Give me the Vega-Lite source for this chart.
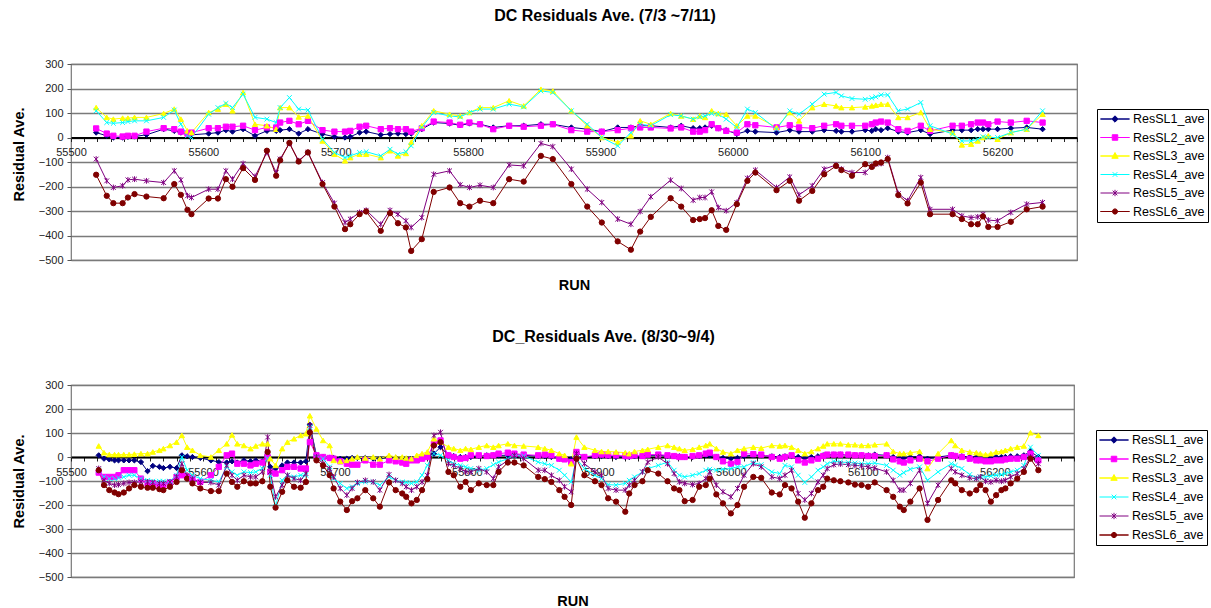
{
  "$schema": "https://vega.github.io/schema/vega-lite/v6.json",
  "background": "white",
  "padding": {"left": 10, "top": 7, "right": 0, "bottom": 0},
  "spacing": 35,
  "datasets": {
    "markers": [
      {"series": "ResSL1_ave", "sl": "SL1"},
      {"series": "ResSL2_ave", "sl": "SL2"},
      {"series": "ResSL3_ave", "sl": "SL3"},
      {"series": "ResSL4_ave", "sl": "SL4"},
      {"series": "ResSL5_ave", "sl": "SL5"},
      {"series": "ResSL6_ave", "sl": "SL6"}
    ],
    "jul": [
      {"run":55519,"ResSL1_ave":20,"ResSL2_ave":37,"ResSL3_ave":122,"ResSL4_ave":109,"ResSL5_ave":-88,"ResSL6_ave":-152},
      {"run":55527,"ResSL1_ave":7,"ResSL2_ave":16,"ResSL3_ave":82,"ResSL4_ave":61,"ResSL5_ave":-177,"ResSL6_ave":-238},
      {"run":55532,"ResSL1_ave":0,"ResSL2_ave":7,"ResSL3_ave":75,"ResSL4_ave":58,"ResSL5_ave":-204,"ResSL6_ave":-268},
      {"run":55539,"ResSL1_ave":0,"ResSL2_ave":4,"ResSL3_ave":79,"ResSL4_ave":61,"ResSL5_ave":-197,"ResSL6_ave":-268},
      {"run":55543,"ResSL1_ave":3,"ResSL2_ave":7,"ResSL3_ave":79,"ResSL4_ave":65,"ResSL5_ave":-173,"ResSL6_ave":-245},
      {"run":55548,"ResSL1_ave":4,"ResSL2_ave":7,"ResSL3_ave":82,"ResSL4_ave":68,"ResSL5_ave":-170,"ResSL6_ave":-231},
      {"run":55557,"ResSL1_ave":11,"ResSL2_ave":24,"ResSL3_ave":82,"ResSL4_ave":68,"ResSL5_ave":-177,"ResSL6_ave":-241},
      {"run":55570,"ResSL1_ave":34,"ResSL2_ave":38,"ResSL3_ave":98,"ResSL4_ave":82,"ResSL5_ave":-184,"ResSL6_ave":-248},
      {"run":55578,"ResSL1_ave":27,"ResSL2_ave":34,"ResSL3_ave":116,"ResSL4_ave":112,"ResSL5_ave":-136,"ResSL6_ave":-190},
      {"run":55583,"ResSL1_ave":20,"ResSL2_ave":24,"ResSL3_ave":75,"ResSL4_ave":54,"ResSL5_ave":-173,"ResSL6_ave":-234},
      {"run":55588,"ResSL1_ave":14,"ResSL2_ave":16,"ResSL3_ave":27,"ResSL4_ave":7,"ResSL5_ave":-238,"ResSL6_ave":-295},
      {"run":55591,"ResSL1_ave":11,"ResSL2_ave":20,"ResSL3_ave":20,"ResSL4_ave":0,"ResSL5_ave":-245,"ResSL6_ave":-313},
      {"run":55604,"ResSL1_ave":16,"ResSL2_ave":38,"ResSL3_ave":102,"ResSL4_ave":95,"ResSL5_ave":-211,"ResSL6_ave":-249},
      {"run":55611,"ResSL1_ave":20,"ResSL2_ave":38,"ResSL3_ave":116,"ResSL4_ave":122,"ResSL5_ave":-211,"ResSL6_ave":-249},
      {"run":55617,"ResSL1_ave":30,"ResSL2_ave":44,"ResSL3_ave":136,"ResSL4_ave":139,"ResSL5_ave":-136,"ResSL6_ave":-170},
      {"run":55622,"ResSL1_ave":24,"ResSL2_ave":44,"ResSL3_ave":109,"ResSL4_ave":122,"ResSL5_ave":-170,"ResSL6_ave":-201},
      {"run":55630,"ResSL1_ave":34,"ResSL2_ave":48,"ResSL3_ave":184,"ResSL4_ave":177,"ResSL5_ave":-106,"ResSL6_ave":-125},
      {"run":55639,"ResSL1_ave":7,"ResSL2_ave":30,"ResSL3_ave":54,"ResSL4_ave":82,"ResSL5_ave":-159,"ResSL6_ave":-173},
      {"run":55648,"ResSL1_ave":27,"ResSL2_ave":41,"ResSL3_ave":48,"ResSL4_ave":75,"ResSL5_ave":-61,"ResSL6_ave":-54},
      {"run":55655,"ResSL1_ave":27,"ResSL2_ave":41,"ResSL3_ave":34,"ResSL4_ave":61,"ResSL5_ave":-143,"ResSL6_ave":-156},
      {"run":55658,"ResSL1_ave":30,"ResSL2_ave":61,"ResSL3_ave":122,"ResSL4_ave":122,"ResSL5_ave":-88,"ResSL6_ave":-93},
      {"run":55665,"ResSL1_ave":34,"ResSL2_ave":68,"ResSL3_ave":122,"ResSL4_ave":163,"ResSL5_ave":-24,"ResSL6_ave":-22},
      {"run":55672,"ResSL1_ave":16,"ResSL2_ave":54,"ResSL3_ave":84,"ResSL4_ave":116,"ResSL5_ave":-95,"ResSL6_ave":-98},
      {"run":55679,"ResSL1_ave":34,"ResSL2_ave":68,"ResSL3_ave":88,"ResSL4_ave":112,"ResSL5_ave":-61,"ResSL6_ave":-61},
      {"run":55690,"ResSL1_ave":14,"ResSL2_ave":30,"ResSL3_ave":-14,"ResSL4_ave":-7,"ResSL5_ave":-184,"ResSL6_ave":-190},
      {"run":55699,"ResSL1_ave":3,"ResSL2_ave":24,"ResSL3_ave":-68,"ResSL4_ave":-61,"ResSL5_ave":-268,"ResSL6_ave":-282},
      {"run":55707,"ResSL1_ave":0,"ResSL2_ave":24,"ResSL3_ave":-95,"ResSL4_ave":-82,"ResSL5_ave":-347,"ResSL6_ave":-374},
      {"run":55711,"ResSL1_ave":3,"ResSL2_ave":27,"ResSL3_ave":-82,"ResSL4_ave":-75,"ResSL5_ave":-333,"ResSL6_ave":-354},
      {"run":55718,"ResSL1_ave":20,"ResSL2_ave":44,"ResSL3_ave":-68,"ResSL4_ave":-61,"ResSL5_ave":-306,"ResSL6_ave":-313},
      {"run":55723,"ResSL1_ave":24,"ResSL2_ave":48,"ResSL3_ave":-68,"ResSL4_ave":-58,"ResSL5_ave":-297,"ResSL6_ave":-302},
      {"run":55734,"ResSL1_ave":11,"ResSL2_ave":34,"ResSL3_ave":-82,"ResSL4_ave":-75,"ResSL5_ave":-354,"ResSL6_ave":-381},
      {"run":55741,"ResSL1_ave":14,"ResSL2_ave":38,"ResSL3_ave":-54,"ResSL4_ave":-48,"ResSL5_ave":-297,"ResSL6_ave":-309},
      {"run":55747,"ResSL1_ave":16,"ResSL2_ave":34,"ResSL3_ave":-75,"ResSL4_ave":-68,"ResSL5_ave":-313,"ResSL6_ave":-350},
      {"run":55753,"ResSL1_ave":14,"ResSL2_ave":34,"ResSL3_ave":-65,"ResSL4_ave":-58,"ResSL5_ave":-340,"ResSL6_ave":-367},
      {"run":55757,"ResSL1_ave":16,"ResSL2_ave":24,"ResSL3_ave":-20,"ResSL4_ave":-34,"ResSL5_ave":-367,"ResSL6_ave":-463},
      {"run":55765,"ResSL1_ave":34,"ResSL2_ave":38,"ResSL3_ave":48,"ResSL4_ave":41,"ResSL5_ave":-327,"ResSL6_ave":-415},
      {"run":55774,"ResSL1_ave":61,"ResSL2_ave":65,"ResSL3_ave":109,"ResSL4_ave":102,"ResSL5_ave":-150,"ResSL6_ave":-222},
      {"run":55786,"ResSL1_ave":57,"ResSL2_ave":61,"ResSL3_ave":95,"ResSL4_ave":88,"ResSL5_ave":-136,"ResSL6_ave":-204},
      {"run":55794,"ResSL1_ave":50,"ResSL2_ave":52,"ResSL3_ave":88,"ResSL4_ave":84,"ResSL5_ave":-193,"ResSL6_ave":-268},
      {"run":55801,"ResSL1_ave":57,"ResSL2_ave":61,"ResSL3_ave":102,"ResSL4_ave":102,"ResSL5_ave":-204,"ResSL6_ave":-282},
      {"run":55809,"ResSL1_ave":54,"ResSL2_ave":54,"ResSL3_ave":122,"ResSL4_ave":116,"ResSL5_ave":-195,"ResSL6_ave":-258},
      {"run":55819,"ResSL1_ave":41,"ResSL2_ave":34,"ResSL3_ave":122,"ResSL4_ave":116,"ResSL5_ave":-204,"ResSL6_ave":-268},
      {"run":55831,"ResSL1_ave":48,"ResSL2_ave":48,"ResSL3_ave":150,"ResSL4_ave":136,"ResSL5_ave":-112,"ResSL6_ave":-170},
      {"run":55842,"ResSL1_ave":48,"ResSL2_ave":44,"ResSL3_ave":129,"ResSL4_ave":125,"ResSL5_ave":-116,"ResSL6_ave":-180},
      {"run":55855,"ResSL1_ave":54,"ResSL2_ave":48,"ResSL3_ave":197,"ResSL4_ave":190,"ResSL5_ave":-24,"ResSL6_ave":-75},
      {"run":55864,"ResSL1_ave":54,"ResSL2_ave":54,"ResSL3_ave":190,"ResSL4_ave":184,"ResSL5_ave":-37,"ResSL6_ave":-88},
      {"run":55878,"ResSL1_ave":41,"ResSL2_ave":30,"ResSL3_ave":109,"ResSL4_ave":109,"ResSL5_ave":-129,"ResSL6_ave":-190},
      {"run":55890,"ResSL1_ave":34,"ResSL2_ave":24,"ResSL3_ave":48,"ResSL4_ave":54,"ResSL5_ave":-211,"ResSL6_ave":-282},
      {"run":55901,"ResSL1_ave":24,"ResSL2_ave":24,"ResSL3_ave":0,"ResSL4_ave":0,"ResSL5_ave":-265,"ResSL6_ave":-347},
      {"run":55913,"ResSL1_ave":41,"ResSL2_ave":30,"ResSL3_ave":-20,"ResSL4_ave":-34,"ResSL5_ave":-333,"ResSL6_ave":-424},
      {"run":55923,"ResSL1_ave":41,"ResSL2_ave":38,"ResSL3_ave":7,"ResSL4_ave":20,"ResSL5_ave":-354,"ResSL6_ave":-458},
      {"run":55930,"ResSL1_ave":48,"ResSL2_ave":41,"ResSL3_ave":68,"ResSL4_ave":54,"ResSL5_ave":-302,"ResSL6_ave":-384},
      {"run":55938,"ResSL1_ave":48,"ResSL2_ave":41,"ResSL3_ave":54,"ResSL4_ave":48,"ResSL5_ave":-242,"ResSL6_ave":-324},
      {"run":55953,"ResSL1_ave":41,"ResSL2_ave":37,"ResSL3_ave":98,"ResSL4_ave":93,"ResSL5_ave":-174,"ResSL6_ave":-248},
      {"run":55961,"ResSL1_ave":48,"ResSL2_ave":41,"ResSL3_ave":88,"ResSL4_ave":88,"ResSL5_ave":-208,"ResSL6_ave":-282},
      {"run":55970,"ResSL1_ave":38,"ResSL2_ave":24,"ResSL3_ave":75,"ResSL4_ave":75,"ResSL5_ave":-256,"ResSL6_ave":-337},
      {"run":55975,"ResSL1_ave":38,"ResSL2_ave":24,"ResSL3_ave":88,"ResSL4_ave":84,"ResSL5_ave":-245,"ResSL6_ave":-333},
      {"run":55979,"ResSL1_ave":41,"ResSL2_ave":30,"ResSL3_ave":82,"ResSL4_ave":88,"ResSL5_ave":-245,"ResSL6_ave":-329},
      {"run":55984,"ResSL1_ave":48,"ResSL2_ave":54,"ResSL3_ave":109,"ResSL4_ave":98,"ResSL5_ave":-222,"ResSL6_ave":-297},
      {"run":55989,"ResSL1_ave":38,"ResSL2_ave":38,"ResSL3_ave":98,"ResSL4_ave":95,"ResSL5_ave":-286,"ResSL6_ave":-361},
      {"run":55995,"ResSL1_ave":30,"ResSL2_ave":27,"ResSL3_ave":95,"ResSL4_ave":75,"ResSL5_ave":-299,"ResSL6_ave":-377},
      {"run":56003,"ResSL1_ave":14,"ResSL2_ave":20,"ResSL3_ave":48,"ResSL4_ave":41,"ResSL5_ave":-265,"ResSL6_ave":-272},
      {"run":56011,"ResSL1_ave":27,"ResSL2_ave":54,"ResSL3_ave":88,"ResSL4_ave":116,"ResSL5_ave":-166,"ResSL6_ave":-177},
      {"run":56017,"ResSL1_ave":24,"ResSL2_ave":50,"ResSL3_ave":88,"ResSL4_ave":102,"ResSL5_ave":-133,"ResSL6_ave":-143},
      {"run":56033,"ResSL1_ave":20,"ResSL2_ave":41,"ResSL3_ave":41,"ResSL4_ave":34,"ResSL5_ave":-204,"ResSL6_ave":-215},
      {"run":56043,"ResSL1_ave":30,"ResSL2_ave":50,"ResSL3_ave":102,"ResSL4_ave":109,"ResSL5_ave":-161,"ResSL6_ave":-177},
      {"run":56050,"ResSL1_ave":24,"ResSL2_ave":41,"ResSL3_ave":68,"ResSL4_ave":95,"ResSL5_ave":-234,"ResSL6_ave":-258},
      {"run":56060,"ResSL1_ave":24,"ResSL2_ave":38,"ResSL3_ave":122,"ResSL4_ave":136,"ResSL5_ave":-197,"ResSL6_ave":-218},
      {"run":56069,"ResSL1_ave":30,"ResSL2_ave":48,"ResSL3_ave":136,"ResSL4_ave":177,"ResSL5_ave":-129,"ResSL6_ave":-150},
      {"run":56078,"ResSL1_ave":27,"ResSL2_ave":54,"ResSL3_ave":129,"ResSL4_ave":184,"ResSL5_ave":-112,"ResSL6_ave":-116},
      {"run":56082,"ResSL1_ave":24,"ResSL2_ave":48,"ResSL3_ave":122,"ResSL4_ave":170,"ResSL5_ave":-129,"ResSL6_ave":-133},
      {"run":56090,"ResSL1_ave":24,"ResSL2_ave":48,"ResSL3_ave":122,"ResSL4_ave":159,"ResSL5_ave":-143,"ResSL6_ave":-156},
      {"run":56100,"ResSL1_ave":30,"ResSL2_ave":48,"ResSL3_ave":125,"ResSL4_ave":156,"ResSL5_ave":-143,"ResSL6_ave":-109},
      {"run":56105,"ResSL1_ave":27,"ResSL2_ave":54,"ResSL3_ave":129,"ResSL4_ave":161,"ResSL5_ave":-116,"ResSL6_ave":-120},
      {"run":56108,"ResSL1_ave":34,"ResSL2_ave":61,"ResSL3_ave":132,"ResSL4_ave":166,"ResSL5_ave":-109,"ResSL6_ave":-106},
      {"run":56112,"ResSL1_ave":30,"ResSL2_ave":65,"ResSL3_ave":136,"ResSL4_ave":174,"ResSL5_ave":-106,"ResSL6_ave":-102},
      {"run":56117,"ResSL1_ave":38,"ResSL2_ave":61,"ResSL3_ave":136,"ResSL4_ave":174,"ResSL5_ave":-82,"ResSL6_ave":-88},
      {"run":56125,"ResSL1_ave":24,"ResSL2_ave":34,"ResSL3_ave":82,"ResSL4_ave":109,"ResSL5_ave":-229,"ResSL6_ave":-235},
      {"run":56132,"ResSL1_ave":20,"ResSL2_ave":27,"ResSL3_ave":82,"ResSL4_ave":116,"ResSL5_ave":-258,"ResSL6_ave":-269},
      {"run":56142,"ResSL1_ave":30,"ResSL2_ave":48,"ResSL3_ave":102,"ResSL4_ave":143,"ResSL5_ave":-163,"ResSL6_ave":-184},
      {"run":56149,"ResSL1_ave":14,"ResSL2_ave":27,"ResSL3_ave":34,"ResSL4_ave":48,"ResSL5_ave":-293,"ResSL6_ave":-313},
      {"run":56166,"ResSL1_ave":30,"ResSL2_ave":48,"ResSL3_ave":20,"ResSL4_ave":14,"ResSL5_ave":-293,"ResSL6_ave":-313},
      {"run":56173,"ResSL1_ave":30,"ResSL2_ave":48,"ResSL3_ave":-30,"ResSL4_ave":-14,"ResSL5_ave":-320,"ResSL6_ave":-333},
      {"run":56180,"ResSL1_ave":30,"ResSL2_ave":54,"ResSL3_ave":-27,"ResSL4_ave":-14,"ResSL5_ave":-327,"ResSL6_ave":-354},
      {"run":56185,"ResSL1_ave":34,"ResSL2_ave":61,"ResSL3_ave":-14,"ResSL4_ave":-7,"ResSL5_ave":-324,"ResSL6_ave":-354},
      {"run":56189,"ResSL1_ave":34,"ResSL2_ave":61,"ResSL3_ave":0,"ResSL4_ave":3,"ResSL5_ave":-313,"ResSL6_ave":-322},
      {"run":56193,"ResSL1_ave":34,"ResSL2_ave":54,"ResSL3_ave":7,"ResSL4_ave":0,"ResSL5_ave":-337,"ResSL6_ave":-365},
      {"run":56200,"ResSL1_ave":34,"ResSL2_ave":65,"ResSL3_ave":-7,"ResSL4_ave":0,"ResSL5_ave":-340,"ResSL6_ave":-365},
      {"run":56210,"ResSL1_ave":38,"ResSL2_ave":61,"ResSL3_ave":20,"ResSL4_ave":20,"ResSL5_ave":-306,"ResSL6_ave":-344},
      {"run":56222,"ResSL1_ave":41,"ResSL2_ave":68,"ResSL3_ave":34,"ResSL4_ave":34,"ResSL5_ave":-272,"ResSL6_ave":-293},
      {"run":56234,"ResSL1_ave":34,"ResSL2_ave":61,"ResSL3_ave":95,"ResSL4_ave":109,"ResSL5_ave":-265,"ResSL6_ave":-282}
    ],
    "sep": [
      {"run":55521,"ResSL1_ave":7,"ResSL2_ave":-65,"ResSL3_ave":46,"ResSL4_ave":-55,"ResSL5_ave":-48,"ResSL6_ave":-55},
      {"run":55525,"ResSL1_ave":-7,"ResSL2_ave":-83,"ResSL3_ave":18,"ResSL4_ave":-83,"ResSL5_ave":-97,"ResSL6_ave":-117},
      {"run":55529,"ResSL1_ave":-10,"ResSL2_ave":-83,"ResSL3_ave":10,"ResSL4_ave":-90,"ResSL5_ave":-110,"ResSL6_ave":-138},
      {"run":55533,"ResSL1_ave":-14,"ResSL2_ave":-83,"ResSL3_ave":10,"ResSL4_ave":-90,"ResSL5_ave":-117,"ResSL6_ave":-148},
      {"run":55536,"ResSL1_ave":-14,"ResSL2_ave":-76,"ResSL3_ave":10,"ResSL4_ave":-87,"ResSL5_ave":-115,"ResSL6_ave":-155},
      {"run":55540,"ResSL1_ave":-14,"ResSL2_ave":-55,"ResSL3_ave":10,"ResSL4_ave":-83,"ResSL5_ave":-110,"ResSL6_ave":-148},
      {"run":55544,"ResSL1_ave":-14,"ResSL2_ave":-55,"ResSL3_ave":10,"ResSL4_ave":-76,"ResSL5_ave":-106,"ResSL6_ave":-131},
      {"run":55548,"ResSL1_ave":-14,"ResSL2_ave":-55,"ResSL3_ave":12,"ResSL4_ave":-76,"ResSL5_ave":-106,"ResSL6_ave":-117},
      {"run":55553,"ResSL1_ave":-21,"ResSL2_ave":-90,"ResSL3_ave":14,"ResSL4_ave":-90,"ResSL5_ave":-104,"ResSL6_ave":-124},
      {"run":55558,"ResSL1_ave":-59,"ResSL2_ave":-110,"ResSL3_ave":14,"ResSL4_ave":-97,"ResSL5_ave":-104,"ResSL6_ave":-128},
      {"run":55562,"ResSL1_ave":-37,"ResSL2_ave":-110,"ResSL3_ave":21,"ResSL4_ave":-101,"ResSL5_ave":-106,"ResSL6_ave":-128},
      {"run":55567,"ResSL1_ave":-41,"ResSL2_ave":-117,"ResSL3_ave":28,"ResSL4_ave":-101,"ResSL5_ave":-110,"ResSL6_ave":-134},
      {"run":55570,"ResSL1_ave":-46,"ResSL2_ave":-117,"ResSL3_ave":35,"ResSL4_ave":-101,"ResSL5_ave":-110,"ResSL6_ave":-138},
      {"run":55575,"ResSL1_ave":-41,"ResSL2_ave":-106,"ResSL3_ave":48,"ResSL4_ave":-101,"ResSL5_ave":-104,"ResSL6_ave":-124},
      {"run":55580,"ResSL1_ave":-46,"ResSL2_ave":-83,"ResSL3_ave":62,"ResSL4_ave":-76,"ResSL5_ave":-83,"ResSL6_ave":-104},
      {"run":55584,"ResSL1_ave":7,"ResSL2_ave":-76,"ResSL3_ave":90,"ResSL4_ave":0,"ResSL5_ave":-28,"ResSL6_ave":-55},
      {"run":55588,"ResSL1_ave":3,"ResSL2_ave":-83,"ResSL3_ave":41,"ResSL4_ave":-55,"ResSL5_ave":-76,"ResSL6_ave":-90},
      {"run":55592,"ResSL1_ave":0,"ResSL2_ave":-90,"ResSL3_ave":28,"ResSL4_ave":-76,"ResSL5_ave":-92,"ResSL6_ave":-110},
      {"run":55598,"ResSL1_ave":-4,"ResSL2_ave":-104,"ResSL3_ave":7,"ResSL4_ave":-90,"ResSL5_ave":-106,"ResSL6_ave":-131},
      {"run":55606,"ResSL1_ave":-14,"ResSL2_ave":-76,"ResSL3_ave":0,"ResSL4_ave":-97,"ResSL5_ave":-106,"ResSL6_ave":-142},
      {"run":55612,"ResSL1_ave":-21,"ResSL2_ave":-41,"ResSL3_ave":28,"ResSL4_ave":-104,"ResSL5_ave":-117,"ResSL6_ave":-142},
      {"run":55618,"ResSL1_ave":-23,"ResSL2_ave":7,"ResSL3_ave":55,"ResSL4_ave":-41,"ResSL5_ave":-35,"ResSL6_ave":-69},
      {"run":55622,"ResSL1_ave":-18,"ResSL2_ave":14,"ResSL3_ave":92,"ResSL4_ave":-62,"ResSL5_ave":-76,"ResSL6_ave":-104},
      {"run":55626,"ResSL1_ave":-23,"ResSL2_ave":-28,"ResSL3_ave":55,"ResSL4_ave":-76,"ResSL5_ave":-97,"ResSL6_ave":-124},
      {"run":55631,"ResSL1_ave":-14,"ResSL2_ave":-28,"ResSL3_ave":48,"ResSL4_ave":-62,"ResSL5_ave":-76,"ResSL6_ave":-101},
      {"run":55636,"ResSL1_ave":-18,"ResSL2_ave":-35,"ResSL3_ave":35,"ResSL4_ave":-65,"ResSL5_ave":-83,"ResSL6_ave":-110},
      {"run":55640,"ResSL1_ave":-14,"ResSL2_ave":-28,"ResSL3_ave":46,"ResSL4_ave":-62,"ResSL5_ave":-83,"ResSL6_ave":-110},
      {"run":55645,"ResSL1_ave":-18,"ResSL2_ave":-23,"ResSL3_ave":55,"ResSL4_ave":-48,"ResSL5_ave":-62,"ResSL6_ave":-101},
      {"run":55649,"ResSL1_ave":7,"ResSL2_ave":0,"ResSL3_ave":55,"ResSL4_ave":-7,"ResSL5_ave":83,"ResSL6_ave":21},
      {"run":55651,"ResSL1_ave":-41,"ResSL2_ave":-62,"ResSL3_ave":-7,"ResSL4_ave":-76,"ResSL5_ave":-62,"ResSL6_ave":-124},
      {"run":55655,"ResSL1_ave":-48,"ResSL2_ave":-69,"ResSL3_ave":-35,"ResSL4_ave":-207,"ResSL5_ave":-166,"ResSL6_ave":-211},
      {"run":55660,"ResSL1_ave":-35,"ResSL2_ave":-55,"ResSL3_ave":35,"ResSL4_ave":-97,"ResSL5_ave":-117,"ResSL6_ave":-145},
      {"run":55664,"ResSL1_ave":-23,"ResSL2_ave":-41,"ResSL3_ave":62,"ResSL4_ave":-76,"ResSL5_ave":-76,"ResSL6_ave":-97},
      {"run":55669,"ResSL1_ave":-23,"ResSL2_ave":-41,"ResSL3_ave":76,"ResSL4_ave":-83,"ResSL5_ave":-90,"ResSL6_ave":-124},
      {"run":55674,"ResSL1_ave":-23,"ResSL2_ave":-48,"ResSL3_ave":90,"ResSL4_ave":-76,"ResSL5_ave":-97,"ResSL6_ave":-128},
      {"run":55678,"ResSL1_ave":-18,"ResSL2_ave":-48,"ResSL3_ave":97,"ResSL4_ave":-76,"ResSL5_ave":-69,"ResSL6_ave":-104},
      {"run":55681,"ResSL1_ave":134,"ResSL2_ave":62,"ResSL3_ave":172,"ResSL4_ave":124,"ResSL5_ave":131,"ResSL6_ave":103},
      {"run":55686,"ResSL1_ave":7,"ResSL2_ave":7,"ResSL3_ave":117,"ResSL4_ave":0,"ResSL5_ave":0,"ResSL6_ave":-14},
      {"run":55691,"ResSL1_ave":0,"ResSL2_ave":0,"ResSL3_ave":69,"ResSL4_ave":-7,"ResSL5_ave":-28,"ResSL6_ave":-35},
      {"run":55696,"ResSL1_ave":-4,"ResSL2_ave":-4,"ResSL3_ave":48,"ResSL4_ave":-41,"ResSL5_ave":-48,"ResSL6_ave":-76},
      {"run":55699,"ResSL1_ave":-4,"ResSL2_ave":-7,"ResSL3_ave":-14,"ResSL4_ave":-90,"ResSL5_ave":-83,"ResSL6_ave":-131},
      {"run":55704,"ResSL1_ave":-7,"ResSL2_ave":-18,"ResSL3_ave":-18,"ResSL4_ave":-110,"ResSL5_ave":-131,"ResSL6_ave":-186},
      {"run":55709,"ResSL1_ave":-7,"ResSL2_ave":-28,"ResSL3_ave":-14,"ResSL4_ave":-131,"ResSL5_ave":-159,"ResSL6_ave":-221},
      {"run":55713,"ResSL1_ave":-4,"ResSL2_ave":-32,"ResSL3_ave":-7,"ResSL4_ave":-124,"ResSL5_ave":-131,"ResSL6_ave":-184},
      {"run":55717,"ResSL1_ave":-4,"ResSL2_ave":-32,"ResSL3_ave":0,"ResSL4_ave":-110,"ResSL5_ave":-106,"ResSL6_ave":-172},
      {"run":55723,"ResSL1_ave":-4,"ResSL2_ave":-14,"ResSL3_ave":-4,"ResSL4_ave":-104,"ResSL5_ave":-97,"ResSL6_ave":-138},
      {"run":55729,"ResSL1_ave":-7,"ResSL2_ave":-32,"ResSL3_ave":0,"ResSL4_ave":-104,"ResSL5_ave":-104,"ResSL6_ave":-172},
      {"run":55734,"ResSL1_ave":-7,"ResSL2_ave":-32,"ResSL3_ave":-7,"ResSL4_ave":-117,"ResSL5_ave":-138,"ResSL6_ave":-207},
      {"run":55741,"ResSL1_ave":0,"ResSL2_ave":-14,"ResSL3_ave":7,"ResSL4_ave":-83,"ResSL5_ave":-73,"ResSL6_ave":-106},
      {"run":55746,"ResSL1_ave":-4,"ResSL2_ave":-18,"ResSL3_ave":0,"ResSL4_ave":-97,"ResSL5_ave":-97,"ResSL6_ave":-138},
      {"run":55751,"ResSL1_ave":-7,"ResSL2_ave":-23,"ResSL3_ave":0,"ResSL4_ave":-104,"ResSL5_ave":-110,"ResSL6_ave":-152},
      {"run":55754,"ResSL1_ave":-7,"ResSL2_ave":-28,"ResSL3_ave":-4,"ResSL4_ave":-106,"ResSL5_ave":-124,"ResSL6_ave":-166},
      {"run":55758,"ResSL1_ave":-7,"ResSL2_ave":-14,"ResSL3_ave":-7,"ResSL4_ave":-110,"ResSL5_ave":-138,"ResSL6_ave":-193},
      {"run":55762,"ResSL1_ave":-4,"ResSL2_ave":-14,"ResSL3_ave":7,"ResSL4_ave":-104,"ResSL5_ave":-124,"ResSL6_ave":-179},
      {"run":55766,"ResSL1_ave":0,"ResSL2_ave":-7,"ResSL3_ave":14,"ResSL4_ave":-76,"ResSL5_ave":-104,"ResSL6_ave":-138},
      {"run":55770,"ResSL1_ave":7,"ResSL2_ave":0,"ResSL3_ave":21,"ResSL4_ave":-35,"ResSL5_ave":-76,"ResSL6_ave":-92},
      {"run":55775,"ResSL1_ave":14,"ResSL2_ave":55,"ResSL3_ave":76,"ResSL4_ave":14,"ResSL5_ave":90,"ResSL6_ave":48},
      {"run":55780,"ResSL1_ave":41,"ResSL2_ave":69,"ResSL3_ave":62,"ResSL4_ave":7,"ResSL5_ave":103,"ResSL6_ave":62},
      {"run":55786,"ResSL1_ave":7,"ResSL2_ave":7,"ResSL3_ave":41,"ResSL4_ave":-14,"ResSL5_ave":-28,"ResSL6_ave":-62},
      {"run":55790,"ResSL1_ave":4,"ResSL2_ave":0,"ResSL3_ave":35,"ResSL4_ave":-28,"ResSL5_ave":-35,"ResSL6_ave":-76},
      {"run":55795,"ResSL1_ave":0,"ResSL2_ave":-7,"ResSL3_ave":28,"ResSL4_ave":-35,"ResSL5_ave":-48,"ResSL6_ave":-124},
      {"run":55799,"ResSL1_ave":0,"ResSL2_ave":-4,"ResSL3_ave":35,"ResSL4_ave":-41,"ResSL5_ave":-62,"ResSL6_ave":-104},
      {"run":55803,"ResSL1_ave":0,"ResSL2_ave":7,"ResSL3_ave":32,"ResSL4_ave":-48,"ResSL5_ave":-62,"ResSL6_ave":-138},
      {"run":55809,"ResSL1_ave":4,"ResSL2_ave":7,"ResSL3_ave":41,"ResSL4_ave":-55,"ResSL5_ave":-48,"ResSL6_ave":-110},
      {"run":55815,"ResSL1_ave":7,"ResSL2_ave":4,"ResSL3_ave":48,"ResSL4_ave":-48,"ResSL5_ave":-62,"ResSL6_ave":-117},
      {"run":55820,"ResSL1_ave":7,"ResSL2_ave":7,"ResSL3_ave":41,"ResSL4_ave":-32,"ResSL5_ave":-90,"ResSL6_ave":-117},
      {"run":55824,"ResSL1_ave":7,"ResSL2_ave":14,"ResSL3_ave":48,"ResSL4_ave":-21,"ResSL5_ave":-41,"ResSL6_ave":-62},
      {"run":55831,"ResSL1_ave":7,"ResSL2_ave":18,"ResSL3_ave":55,"ResSL4_ave":-7,"ResSL5_ave":-14,"ResSL6_ave":-23},
      {"run":55836,"ResSL1_ave":10,"ResSL2_ave":14,"ResSL3_ave":48,"ResSL4_ave":4,"ResSL5_ave":7,"ResSL6_ave":-23},
      {"run":55843,"ResSL1_ave":7,"ResSL2_ave":10,"ResSL3_ave":46,"ResSL4_ave":4,"ResSL5_ave":-7,"ResSL6_ave":-35},
      {"run":55854,"ResSL1_ave":4,"ResSL2_ave":7,"ResSL3_ave":41,"ResSL4_ave":-21,"ResSL5_ave":-55,"ResSL6_ave":-83},
      {"run":55859,"ResSL1_ave":3,"ResSL2_ave":10,"ResSL3_ave":35,"ResSL4_ave":-28,"ResSL5_ave":-55,"ResSL6_ave":-92},
      {"run":55864,"ResSL1_ave":0,"ResSL2_ave":7,"ResSL3_ave":28,"ResSL4_ave":-35,"ResSL5_ave":-76,"ResSL6_ave":-104},
      {"run":55870,"ResSL1_ave":-4,"ResSL2_ave":-7,"ResSL3_ave":14,"ResSL4_ave":-55,"ResSL5_ave":-97,"ResSL6_ave":-138},
      {"run":55874,"ResSL1_ave":-7,"ResSL2_ave":-10,"ResSL3_ave":7,"ResSL4_ave":-76,"ResSL5_ave":-124,"ResSL6_ave":-166},
      {"run":55879,"ResSL1_ave":-10,"ResSL2_ave":-21,"ResSL3_ave":-28,"ResSL4_ave":-104,"ResSL5_ave":-145,"ResSL6_ave":-200},
      {"run":55883,"ResSL1_ave":18,"ResSL2_ave":21,"ResSL3_ave":83,"ResSL4_ave":-7,"ResSL5_ave":14,"ResSL6_ave":-7},
      {"run":55889,"ResSL1_ave":0,"ResSL2_ave":0,"ResSL3_ave":41,"ResSL4_ave":-48,"ResSL5_ave":-28,"ResSL6_ave":-76},
      {"run":55897,"ResSL1_ave":3,"ResSL2_ave":7,"ResSL3_ave":28,"ResSL4_ave":-76,"ResSL5_ave":-62,"ResSL6_ave":-101},
      {"run":55902,"ResSL1_ave":4,"ResSL2_ave":10,"ResSL3_ave":23,"ResSL4_ave":-90,"ResSL5_ave":-76,"ResSL6_ave":-117},
      {"run":55907,"ResSL1_ave":3,"ResSL2_ave":7,"ResSL3_ave":23,"ResSL4_ave":-115,"ResSL5_ave":-131,"ResSL6_ave":-172},
      {"run":55913,"ResSL1_ave":0,"ResSL2_ave":7,"ResSL3_ave":21,"ResSL4_ave":-117,"ResSL5_ave":-138,"ResSL6_ave":-186},
      {"run":55920,"ResSL1_ave":0,"ResSL2_ave":4,"ResSL3_ave":18,"ResSL4_ave":-110,"ResSL5_ave":-138,"ResSL6_ave":-228},
      {"run":55923,"ResSL1_ave":0,"ResSL2_ave":4,"ResSL3_ave":14,"ResSL4_ave":-97,"ResSL5_ave":-117,"ResSL6_ave":-152},
      {"run":55927,"ResSL1_ave":3,"ResSL2_ave":7,"ResSL3_ave":23,"ResSL4_ave":-83,"ResSL5_ave":-97,"ResSL6_ave":-117},
      {"run":55933,"ResSL1_ave":3,"ResSL2_ave":4,"ResSL3_ave":28,"ResSL4_ave":-62,"ResSL5_ave":-62,"ResSL6_ave":-101},
      {"run":55937,"ResSL1_ave":7,"ResSL2_ave":10,"ResSL3_ave":32,"ResSL4_ave":-48,"ResSL5_ave":-21,"ResSL6_ave":-55},
      {"run":55945,"ResSL1_ave":7,"ResSL2_ave":10,"ResSL3_ave":41,"ResSL4_ave":-35,"ResSL5_ave":0,"ResSL6_ave":-69},
      {"run":55952,"ResSL1_ave":4,"ResSL2_ave":7,"ResSL3_ave":48,"ResSL4_ave":-21,"ResSL5_ave":-28,"ResSL6_ave":-101},
      {"run":55957,"ResSL1_ave":3,"ResSL2_ave":4,"ResSL3_ave":41,"ResSL4_ave":-55,"ResSL5_ave":-69,"ResSL6_ave":-131},
      {"run":55961,"ResSL1_ave":3,"ResSL2_ave":0,"ResSL3_ave":35,"ResSL4_ave":-76,"ResSL5_ave":-104,"ResSL6_ave":-138},
      {"run":55965,"ResSL1_ave":0,"ResSL2_ave":0,"ResSL3_ave":28,"ResSL4_ave":-83,"ResSL5_ave":-110,"ResSL6_ave":-184},
      {"run":55971,"ResSL1_ave":0,"ResSL2_ave":4,"ResSL3_ave":32,"ResSL4_ave":-76,"ResSL5_ave":-115,"ResSL6_ave":-179},
      {"run":55976,"ResSL1_ave":4,"ResSL2_ave":7,"ResSL3_ave":41,"ResSL4_ave":-69,"ResSL5_ave":-110,"ResSL6_ave":-124},
      {"run":55981,"ResSL1_ave":7,"ResSL2_ave":14,"ResSL3_ave":48,"ResSL4_ave":-55,"ResSL5_ave":-90,"ResSL6_ave":-117},
      {"run":55984,"ResSL1_ave":7,"ResSL2_ave":18,"ResSL3_ave":55,"ResSL4_ave":-51,"ResSL5_ave":-62,"ResSL6_ave":-90},
      {"run":55989,"ResSL1_ave":0,"ResSL2_ave":0,"ResSL3_ave":35,"ResSL4_ave":-55,"ResSL5_ave":-117,"ResSL6_ave":-156},
      {"run":55994,"ResSL1_ave":-4,"ResSL2_ave":-18,"ResSL3_ave":21,"ResSL4_ave":-51,"ResSL5_ave":-145,"ResSL6_ave":-193},
      {"run":56000,"ResSL1_ave":-7,"ResSL2_ave":-28,"ResSL3_ave":14,"ResSL4_ave":-48,"ResSL5_ave":-166,"ResSL6_ave":-235},
      {"run":56005,"ResSL1_ave":-4,"ResSL2_ave":-21,"ResSL3_ave":28,"ResSL4_ave":-41,"ResSL5_ave":-131,"ResSL6_ave":-200},
      {"run":56010,"ResSL1_ave":4,"ResSL2_ave":14,"ResSL3_ave":35,"ResSL4_ave":-41,"ResSL5_ave":-76,"ResSL6_ave":-124},
      {"run":56017,"ResSL1_ave":7,"ResSL2_ave":12,"ResSL3_ave":41,"ResSL4_ave":-23,"ResSL5_ave":-28,"ResSL6_ave":-83},
      {"run":56023,"ResSL1_ave":7,"ResSL2_ave":10,"ResSL3_ave":37,"ResSL4_ave":-32,"ResSL5_ave":-41,"ResSL6_ave":-87},
      {"run":56031,"ResSL1_ave":3,"ResSL2_ave":0,"ResSL3_ave":48,"ResSL4_ave":-62,"ResSL5_ave":-83,"ResSL6_ave":-148},
      {"run":56037,"ResSL1_ave":0,"ResSL2_ave":-7,"ResSL3_ave":46,"ResSL4_ave":-69,"ResSL5_ave":-90,"ResSL6_ave":-156},
      {"run":56041,"ResSL1_ave":3,"ResSL2_ave":0,"ResSL3_ave":48,"ResSL4_ave":-35,"ResSL5_ave":-76,"ResSL6_ave":-117},
      {"run":56046,"ResSL1_ave":4,"ResSL2_ave":7,"ResSL3_ave":41,"ResSL4_ave":-41,"ResSL5_ave":-55,"ResSL6_ave":-131},
      {"run":56051,"ResSL1_ave":0,"ResSL2_ave":-14,"ResSL3_ave":28,"ResSL4_ave":-76,"ResSL5_ave":-152,"ResSL6_ave":-186},
      {"run":56056,"ResSL1_ave":-4,"ResSL2_ave":-23,"ResSL3_ave":14,"ResSL4_ave":-106,"ResSL5_ave":-179,"ResSL6_ave":-253},
      {"run":56061,"ResSL1_ave":0,"ResSL2_ave":-14,"ResSL3_ave":23,"ResSL4_ave":-83,"ResSL5_ave":-152,"ResSL6_ave":-193},
      {"run":56066,"ResSL1_ave":3,"ResSL2_ave":-7,"ResSL3_ave":35,"ResSL4_ave":-55,"ResSL5_ave":-104,"ResSL6_ave":-138},
      {"run":56070,"ResSL1_ave":7,"ResSL2_ave":4,"ResSL3_ave":46,"ResSL4_ave":-41,"ResSL5_ave":-76,"ResSL6_ave":-124},
      {"run":56073,"ResSL1_ave":7,"ResSL2_ave":10,"ResSL3_ave":55,"ResSL4_ave":-28,"ResSL5_ave":-48,"ResSL6_ave":-90},
      {"run":56078,"ResSL1_ave":10,"ResSL2_ave":10,"ResSL3_ave":55,"ResSL4_ave":-18,"ResSL5_ave":-32,"ResSL6_ave":-97},
      {"run":56083,"ResSL1_ave":10,"ResSL2_ave":10,"ResSL3_ave":55,"ResSL4_ave":-21,"ResSL5_ave":-29,"ResSL6_ave":-101},
      {"run":56089,"ResSL1_ave":7,"ResSL2_ave":10,"ResSL3_ave":51,"ResSL4_ave":-23,"ResSL5_ave":-32,"ResSL6_ave":-106},
      {"run":56094,"ResSL1_ave":7,"ResSL2_ave":7,"ResSL3_ave":51,"ResSL4_ave":-25,"ResSL5_ave":-35,"ResSL6_ave":-115},
      {"run":56099,"ResSL1_ave":7,"ResSL2_ave":7,"ResSL3_ave":48,"ResSL4_ave":-28,"ResSL5_ave":-37,"ResSL6_ave":-117},
      {"run":56104,"ResSL1_ave":7,"ResSL2_ave":4,"ResSL3_ave":48,"ResSL4_ave":-28,"ResSL5_ave":-41,"ResSL6_ave":-124},
      {"run":56109,"ResSL1_ave":10,"ResSL2_ave":4,"ResSL3_ave":51,"ResSL4_ave":-25,"ResSL5_ave":-46,"ResSL6_ave":-106},
      {"run":56118,"ResSL1_ave":7,"ResSL2_ave":7,"ResSL3_ave":55,"ResSL4_ave":-35,"ResSL5_ave":-62,"ResSL6_ave":-138},
      {"run":56123,"ResSL1_ave":0,"ResSL2_ave":-10,"ResSL3_ave":23,"ResSL4_ave":-55,"ResSL5_ave":-97,"ResSL6_ave":-166},
      {"run":56128,"ResSL1_ave":-4,"ResSL2_ave":-18,"ResSL3_ave":14,"ResSL4_ave":-76,"ResSL5_ave":-138,"ResSL6_ave":-207},
      {"run":56131,"ResSL1_ave":-4,"ResSL2_ave":-23,"ResSL3_ave":14,"ResSL4_ave":-65,"ResSL5_ave":-138,"ResSL6_ave":-221},
      {"run":56136,"ResSL1_ave":0,"ResSL2_ave":-14,"ResSL3_ave":18,"ResSL4_ave":-51,"ResSL5_ave":-110,"ResSL6_ave":-186},
      {"run":56143,"ResSL1_ave":3,"ResSL2_ave":-7,"ResSL3_ave":23,"ResSL4_ave":-41,"ResSL5_ave":-55,"ResSL6_ave":-131},
      {"run":56149,"ResSL1_ave":-7,"ResSL2_ave":-18,"ResSL3_ave":-48,"ResSL4_ave":-97,"ResSL5_ave":-193,"ResSL6_ave":-262},
      {"run":56157,"ResSL1_ave":0,"ResSL2_ave":-7,"ResSL3_ave":14,"ResSL4_ave":-62,"ResSL5_ave":-117,"ResSL6_ave":-179},
      {"run":56167,"ResSL1_ave":7,"ResSL2_ave":7,"ResSL3_ave":69,"ResSL4_ave":-28,"ResSL5_ave":-48,"ResSL6_ave":-97},
      {"run":56170,"ResSL1_ave":4,"ResSL2_ave":4,"ResSL3_ave":48,"ResSL4_ave":-35,"ResSL5_ave":-62,"ResSL6_ave":-110},
      {"run":56175,"ResSL1_ave":3,"ResSL2_ave":0,"ResSL3_ave":28,"ResSL4_ave":-48,"ResSL5_ave":-76,"ResSL6_ave":-138},
      {"run":56181,"ResSL1_ave":0,"ResSL2_ave":-7,"ResSL3_ave":21,"ResSL4_ave":-73,"ResSL5_ave":-87,"ResSL6_ave":-152},
      {"run":56186,"ResSL1_ave":0,"ResSL2_ave":-14,"ResSL3_ave":18,"ResSL4_ave":-87,"ResSL5_ave":-90,"ResSL6_ave":-138},
      {"run":56189,"ResSL1_ave":0,"ResSL2_ave":-14,"ResSL3_ave":14,"ResSL4_ave":-83,"ResSL5_ave":-83,"ResSL6_ave":-117},
      {"run":56193,"ResSL1_ave":-4,"ResSL2_ave":-18,"ResSL3_ave":10,"ResSL4_ave":-83,"ResSL5_ave":-101,"ResSL6_ave":-138},
      {"run":56197,"ResSL1_ave":-4,"ResSL2_ave":-18,"ResSL3_ave":14,"ResSL4_ave":-79,"ResSL5_ave":-104,"ResSL6_ave":-186},
      {"run":56201,"ResSL1_ave":0,"ResSL2_ave":-14,"ResSL3_ave":21,"ResSL4_ave":-76,"ResSL5_ave":-97,"ResSL6_ave":-159},
      {"run":56205,"ResSL1_ave":0,"ResSL2_ave":-14,"ResSL3_ave":23,"ResSL4_ave":-73,"ResSL5_ave":-101,"ResSL6_ave":-138},
      {"run":56208,"ResSL1_ave":0,"ResSL2_ave":-10,"ResSL3_ave":28,"ResSL4_ave":-69,"ResSL5_ave":-97,"ResSL6_ave":-131},
      {"run":56212,"ResSL1_ave":3,"ResSL2_ave":-7,"ResSL3_ave":35,"ResSL4_ave":-62,"ResSL5_ave":-83,"ResSL6_ave":-110},
      {"run":56217,"ResSL1_ave":3,"ResSL2_ave":-7,"ResSL3_ave":41,"ResSL4_ave":-55,"ResSL5_ave":-69,"ResSL6_ave":-90},
      {"run":56222,"ResSL1_ave":7,"ResSL2_ave":0,"ResSL3_ave":46,"ResSL4_ave":-35,"ResSL5_ave":-48,"ResSL6_ave":-62},
      {"run":56227,"ResSL1_ave":23,"ResSL2_ave":14,"ResSL3_ave":101,"ResSL4_ave":41,"ResSL5_ave":0,"ResSL6_ave":-7},
      {"run":56233,"ResSL1_ave":0,"ResSL2_ave":-14,"ResSL3_ave":90,"ResSL4_ave":7,"ResSL5_ave":-28,"ResSL6_ave":-55}
    ]
  },
  "vconcat": [
    {
      "title": {"text": "DC Residuals Ave. (7/3 ~7/11)", "dx": 31, "offset": 18, "baseline": "bottom"},
      "width": 1006,
      "height": 196,
      "data": {"name": "jul"},
      "transform": [
        {"fold": ["ResSL1_ave", "ResSL2_ave", "ResSL3_ave", "ResSL4_ave", "ResSL5_ave", "ResSL6_ave"], "as": ["series", "value"]},
        {"lookup": "series", "from": {"data": {"name": "markers"}, "key": "series", "fields": ["sl"]}}
      ],
      "encoding": {
        "x": {"field": "run", "type": "quantitative",
              "scale": {"domain": [55500, 56260], "nice": false, "zero": false},
              "axis": {"title": "RUN", "offset": -122.5, "titleY": 147.5, "titleBaseline": "middle", "tickCount": 80, "format": "d",
                       "labelExpr": "datum.value % 100 === 0 ? datum.label : ''", "labelOverlap": false, "labelFlush": false, "labelBound": false}},
        "y": {"field": "value", "type": "quantitative",
              "scale": {"domain": [-500, 300], "nice": false, "zero": false},
              "axis": {"title": "Residual Ave.", "values": [-500, -400, -300, -200, -100, 0, 100, 200, 300], "titleY": 90, "titlePadding": 12}}
      },
      "layer": [
        {
          "mark": {"type": "line", "strokeWidth": 1},
          "encoding": {
            "color": {"field": "series", "type": "nominal",
                      "scale": {"domain": ["ResSL1_ave", "ResSL2_ave", "ResSL3_ave", "ResSL4_ave", "ResSL5_ave", "ResSL6_ave"],
                                "range": ["#000080", "#ff00ff", "#ffff00", "#00ffff", "#800080", "#800000"]},
                      "legend": {"title": null, "orient": "none", "legendX": 1026, "legendY": 45,
                                 "fillColor": "#ffffff", "strokeColor": "#000000", "padding": 3,
                                 "labelFont": "Liberation Sans", "labelFontSize": 12.5, "labelColor": "#000000", "labelOffset": 3, "labelLimit": 200,
                                 "symbolSize": 841, "symbolType": "M-1,0H1", "symbolStrokeWidth": 1, "clipHeight": 14, "rowPadding": 4.5,
                                 "encode": {"symbols": {"update": {
                                   "shape": {"signal": "['M-1,0H-0.22L0,-0.22L0.22,0H1H0.22L0,0.22L-0.22,0Z','M-1,0H-0.19V-0.19H0.19V0H1H0.19V0.19H-0.19V0Z','M-1,0H-0.132L0,-0.24L0.132,0H1H0.132L0.22,0.16H-0.22L-0.132,0Z','M-1,0H1M-0.16,-0.16L0.16,0.16M-0.16,0.16L0.16,-0.16','M-1,0H1M-0.16,-0.16L0.16,0.16M-0.16,0.16L0.16,-0.16M0,-0.22V0.22','M-1,0H-0.18A0.18,0.18,0,0,1,0.18,0H1H0.18A0.18,0.18,0,0,1,-0.18,0Z'][indexof(['ResSL1_ave','ResSL2_ave','ResSL3_ave','ResSL4_ave','ResSL5_ave','ResSL6_ave'], datum.value)]"},
                                   "fill": {"signal": "['#000080','#ff00ff','#ffff00','transparent','transparent','#800000'][indexof(['ResSL1_ave','ResSL2_ave','ResSL3_ave','ResSL4_ave','ResSL5_ave','ResSL6_ave'], datum.value)]"},
                                   "stroke": {"signal": "['#000080','#ff00ff','#ffff00','#00ffff','#800080','#800000'][indexof(['ResSL1_ave','ResSL2_ave','ResSL3_ave','ResSL4_ave','ResSL5_ave','ResSL6_ave'], datum.value)]"},
                                   "strokeWidth": {"value": 1},
                                   "opacity": {"value": 1}}}}}}
          }
        },
        {
          "mark": {"type": "point", "filled": true, "size": 28, "strokeWidth": 1, "opacity": 1},
          "encoding": {
            "shape": {"field": "sl", "type": "nominal",
                      "scale": {"domain": ["SL1", "SL2", "SL3", "SL4", "SL5", "SL6"],
                                "range": ["diamond", "square", "triangle-up", "M-0.9,-0.9L0.9,0.9M-0.9,0.9L0.9,-0.9", "M-0.9,-0.9L0.9,0.9M-0.9,0.9L0.9,-0.9M0,-1.1V1.1", "circle"]},
                      "legend": null},
            "fill": {"field": "sl", "type": "nominal",
                     "scale": {"domain": ["SL1", "SL2", "SL3", "SL4", "SL5", "SL6"],
                               "range": ["#000080", "#ff00ff", "#ffff00", "transparent", "transparent", "#800000"]},
                     "legend": null},
            "stroke": {"field": "sl", "type": "nominal",
                       "scale": {"domain": ["SL1", "SL2", "SL3", "SL4", "SL5", "SL6"],
                                 "range": ["#000080", "#ff00ff", "#ffff00", "#00ffff", "#800080", "#800000"]},
                       "legend": null}
          }
        }
      ]
    },
    {
      "title": {"text": "DC_Residuals Ave. (8/30~9/4)", "dx": 31, "offset": 18, "baseline": "bottom"},
      "width": 1003,
      "height": 192,
      "data": {"name": "sep"},
      "transform": [
        {"fold": ["ResSL1_ave", "ResSL2_ave", "ResSL3_ave", "ResSL4_ave", "ResSL5_ave", "ResSL6_ave"], "as": ["series", "value"]},
        {"lookup": "series", "from": {"data": {"name": "markers"}, "key": "series", "fields": ["sl"]}}
      ],
      "encoding": {
        "x": {"field": "run", "type": "quantitative",
              "scale": {"domain": [55500, 56260], "nice": false, "zero": false},
              "axis": {"title": "RUN", "offset": -120, "titleY": 144, "titleBaseline": "middle", "tickCount": 80, "format": "d",
                       "labelExpr": "datum.value % 100 === 0 ? datum.label : ''", "labelOverlap": false, "labelFlush": false, "labelBound": false}},
        "y": {"field": "value", "type": "quantitative",
              "scale": {"domain": [-500, 300], "nice": false, "zero": false},
              "axis": {"title": "Residual Ave.", "values": [-500, -400, -300, -200, -100, 0, 100, 200, 300], "titlePadding": 12}}
      },
      "layer": [
        {
          "mark": {"type": "line", "strokeWidth": 1},
          "encoding": {
            "color": {"field": "series", "type": "nominal",
                      "scale": {"domain": ["ResSL1_ave", "ResSL2_ave", "ResSL3_ave", "ResSL4_ave", "ResSL5_ave", "ResSL6_ave"],
                                "range": ["#000080", "#ff00ff", "#ffff00", "#00ffff", "#800080", "#800000"]},
                      "legend": {"title": null, "orient": "none", "legendX": 1025, "legendY": 45,
                                 "fillColor": "#ffffff", "strokeColor": "#000000", "padding": 3,
                                 "labelFont": "Liberation Sans", "labelFontSize": 12.5, "labelColor": "#000000", "labelOffset": 3, "labelLimit": 200,
                                 "symbolSize": 841, "symbolType": "M-1,0H1", "symbolStrokeWidth": 1, "clipHeight": 14, "rowPadding": 5,
                                 "encode": {"symbols": {"update": {
                                   "shape": {"signal": "['M-1,0H-0.22L0,-0.22L0.22,0H1H0.22L0,0.22L-0.22,0Z','M-1,0H-0.19V-0.19H0.19V0H1H0.19V0.19H-0.19V0Z','M-1,0H-0.132L0,-0.24L0.132,0H1H0.132L0.22,0.16H-0.22L-0.132,0Z','M-1,0H1M-0.16,-0.16L0.16,0.16M-0.16,0.16L0.16,-0.16','M-1,0H1M-0.16,-0.16L0.16,0.16M-0.16,0.16L0.16,-0.16M0,-0.22V0.22','M-1,0H-0.18A0.18,0.18,0,0,1,0.18,0H1H0.18A0.18,0.18,0,0,1,-0.18,0Z'][indexof(['ResSL1_ave','ResSL2_ave','ResSL3_ave','ResSL4_ave','ResSL5_ave','ResSL6_ave'], datum.value)]"},
                                   "fill": {"signal": "['#000080','#ff00ff','#ffff00','transparent','transparent','#800000'][indexof(['ResSL1_ave','ResSL2_ave','ResSL3_ave','ResSL4_ave','ResSL5_ave','ResSL6_ave'], datum.value)]"},
                                   "stroke": {"signal": "['#000080','#ff00ff','#ffff00','#00ffff','#800080','#800000'][indexof(['ResSL1_ave','ResSL2_ave','ResSL3_ave','ResSL4_ave','ResSL5_ave','ResSL6_ave'], datum.value)]"},
                                   "strokeWidth": {"value": 1},
                                   "opacity": {"value": 1}}}}}}
          }
        },
        {
          "mark": {"type": "point", "filled": true, "size": 28, "strokeWidth": 1, "opacity": 1},
          "encoding": {
            "shape": {"field": "sl", "type": "nominal",
                      "scale": {"domain": ["SL1", "SL2", "SL3", "SL4", "SL5", "SL6"],
                                "range": ["diamond", "square", "triangle-up", "M-0.9,-0.9L0.9,0.9M-0.9,0.9L0.9,-0.9", "M-0.9,-0.9L0.9,0.9M-0.9,0.9L0.9,-0.9M0,-1.1V1.1", "circle"]},
                      "legend": null},
            "fill": {"field": "sl", "type": "nominal",
                     "scale": {"domain": ["SL1", "SL2", "SL3", "SL4", "SL5", "SL6"],
                               "range": ["#000080", "#ff00ff", "#ffff00", "transparent", "transparent", "#800000"]},
                     "legend": null},
            "stroke": {"field": "sl", "type": "nominal",
                       "scale": {"domain": ["SL1", "SL2", "SL3", "SL4", "SL5", "SL6"],
                                 "range": ["#000080", "#ff00ff", "#ffff00", "#00ffff", "#800080", "#800000"]},
                       "legend": null}
          }
        }
      ]
    }
  ],
  "resolve": {
    "scale": {"color": "independent", "fill": "independent", "stroke": "independent", "shape": "independent"},
    "legend": {"color": "independent"}
  },
  "config": {
    "font": "Liberation Sans",
    "view": {"stroke": "#777777", "strokeWidth": 1.2},
    "title": {"font": "Liberation Sans", "fontSize": 16, "fontWeight": "bold", "color": "#000000", "anchor": "middle"},
    "axis": {"labelFont": "Liberation Sans", "labelFontSize": 11, "labelColor": "#222222",
             "titleFont": "Liberation Sans", "titleFontSize": 14.5, "titleFontWeight": "bold", "titleColor": "#000000",
             "tickColor": "#555555", "tickSize": 4, "gridColor": "#7a7a7a", "gridWidth": 1.3},
    "axisX": {"grid": false, "domainColor": "#000000", "domainWidth": 1.8, "tickColor": "#222222", "labelPadding": 5},
    "axisY": {"grid": true, "domain": false, "labelPadding": 4}
  }
}
